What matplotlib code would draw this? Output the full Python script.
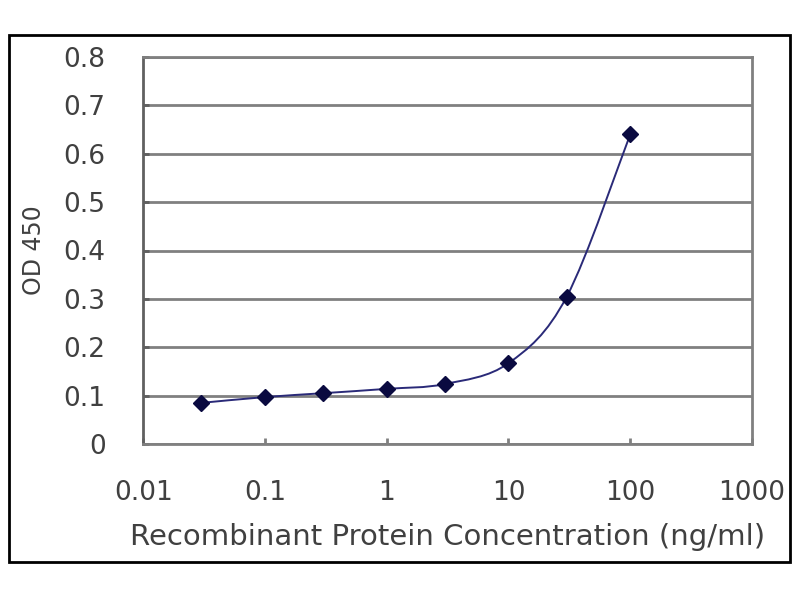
import matplotlib.pyplot as plt
import numpy as np
from matplotlib.path import Path
from matplotlib.patches import PathPatch, Rectangle

plt.rcParams['font.family'] = ['DejaVu Sans']

# Data
concentration = [0.03, 0.1, 0.3, 1, 3, 10, 30, 100]
od450 = [0.085, 0.097, 0.105, 0.114, 0.124, 0.167, 0.304, 0.640]
x_ticks = [0.01, 0.1, 1, 10, 100, 1000]
x_tick_labels = ['0.01', '0.1', '1', '10', '100', '1000']
y_ticks = [0, 0.1, 0.2, 0.3, 0.4, 0.5, 0.6, 0.7, 0.8]
y_tick_labels = ['0', '0.1', '0.2', '0.3', '0.4', '0.5', '0.6', '0.7', '0.8']

TEXT = '#404040'
GRID = '#808080'
LINE = '#2a2a78'
MARK = '#0a0a40'


def smooth_path(xs, ys):
    """Excel-style smoothed line: Catmull-Rom bezier in log-x space."""
    lx = np.log10(xs)
    ys = np.asarray(ys, dtype=float)
    verts = [(xs[0], ys[0])]
    codes = [Path.MOVETO]
    n = len(lx)
    for i in range(n - 1):
        p0 = (lx[max(i - 1, 0)], ys[max(i - 1, 0)])
        p1 = (lx[i], ys[i])
        p2 = (lx[i + 1], ys[i + 1])
        p3 = (lx[min(i + 2, n - 1)], ys[min(i + 2, n - 1)])
        c1 = (p1[0] + (p2[0] - p0[0]) / 6, p1[1] + (p2[1] - p0[1]) / 6)
        c2 = (p2[0] - (p3[0] - p1[0]) / 6, p2[1] - (p3[1] - p1[1]) / 6)
        for c in (c1, c2, p2):
            verts.append((10 ** c[0], c[1]))
            codes.append(Path.CURVE4)
    return Path(verts, codes)


fig = plt.figure(figsize=(8, 6), dpi=100)
fig.patch.set_facecolor('white')

# outer chart frame
fig.patches.append(Rectangle((0.011, 0.064), 0.976, 0.877, transform=fig.transFigure,
                             fill=False, edgecolor='black', linewidth=2))

ax = fig.add_axes([0.179, 0.26, 0.761, 0.645])
ax.set_xscale('log')
ax.set_xlim(0.01, 1000)
ax.set_ylim(0, 0.8)

ax.set_yticks(y_ticks)
ax.set_yticklabels(y_tick_labels)
ax.set_xticks(x_ticks)
ax.set_xticklabels(x_tick_labels)
ax.minorticks_off()

ax.yaxis.grid(True, color=GRID, linewidth=2)
ax.set_axisbelow(True)
for side in ['left', 'bottom', 'right', 'top']:
    ax.spines[side].set_color(GRID)
    ax.spines[side].set_linewidth(2)
ax.spines['left'].set_color('#606060')

ax.tick_params(axis='y', direction='in', length=4, width=2, color='#606060',
               pad=27, labelsize=19, labelcolor=TEXT)
ax.tick_params(axis='x', direction='in', length=4, width=2, color=GRID,
               pad=26, labelsize=19, labelcolor=TEXT)

ax.add_patch(PathPatch(smooth_path(concentration, od450), fill=False,
                       edgecolor=LINE, linewidth=1.4))
ax.plot(concentration, od450, linestyle='none', marker='D', markersize=8,
        color=MARK)

ax.set_xlabel('Recombinant Protein Concentration (ng/ml)', fontsize=21,
              color=TEXT)
ax.set_ylabel('OD 450', fontsize=17, color=TEXT)
ax.xaxis.set_label_coords(0.5, -0.205)
ax.yaxis.set_label_coords(-0.16, 0.5)

plt.savefig('out.png', dpi=100)
